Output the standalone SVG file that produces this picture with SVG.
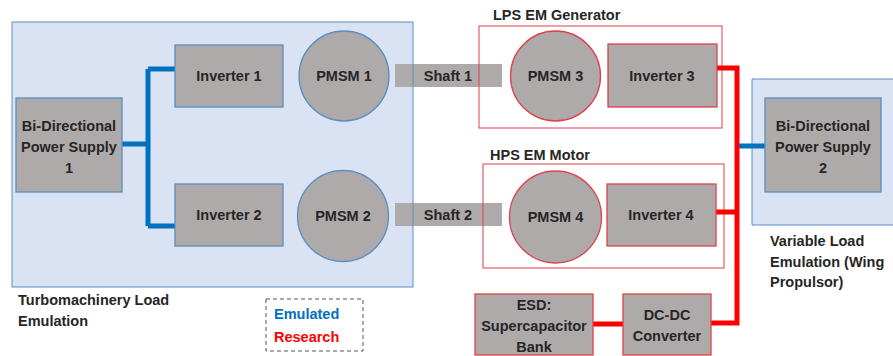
<svg xmlns="http://www.w3.org/2000/svg" width="893" height="356" viewBox="0 0 893 356">
<style>
text{font-family:"Liberation Sans",Arial,sans-serif;font-weight:bold;font-size:14.5px;fill:#262626}
.c{text-anchor:middle}
.rfill{fill:#dae3f3;stroke:none}
.rline{fill:none;stroke:#5b8fc0;stroke-width:1}
.gb{fill:#aeaaaa;stroke:#5b8fc0;stroke-width:1.3}
.gr{fill:#aeaaaa;stroke:#e0404a;stroke-width:1.3}
.frame{fill:none;stroke:#e0404a;stroke-width:1}
.shaft{fill:#aeaaaa;stroke:none}
.bl{fill:none;stroke:#0070c0;stroke-width:5}
.rl{fill:none;stroke:#ff0000;stroke-width:5}
</style>
<rect width="893" height="356" fill="#ffffff"/>
<g id="turbo-region">
<rect class="rfill" x="12" y="22" width="401" height="265"/>
<text x="18" y="305">Turbomachinery Load</text>
<text x="18" y="326">Emulation</text>
</g>
<g id="wing-region">
<rect class="rfill" x="752" y="79" width="141" height="146"/>
<text x="770" y="246">Variable Load</text>
<text x="770" y="267">Emulation (Wing</text>
<text x="770" y="287">Propulsor)</text>
</g>
<g id="shaft1">
<rect class="shaft" x="395" y="64" width="107" height="23"/>
</g>
<g id="shaft2">
<rect class="shaft" x="395" y="203" width="107" height="23"/>
</g>
<g id="borders">
<rect class="rline" x="12" y="22" width="401" height="265"/>
<path class="rline" d="M893 79 H752 V225 H893"/>
</g>
<g id="lps-frame">
<rect class="frame" x="479" y="26" width="243" height="102"/>
<text x="493" y="20">LPS EM Generator</text>
</g>
<g id="hps-frame">
<rect class="frame" x="483" y="164" width="241" height="104"/>
<text x="490" y="160">HPS EM Motor</text>
</g>
<g id="shaft-labels">
<text class="c" x="448" y="81">Shaft 1</text>
<text class="c" x="448" y="220">Shaft 2</text>
</g>
<g id="connectors">
<path class="bl" d="M122 144 H148 M148 69 V226 M148 69 H175 M148 226 H175"/>
<path class="bl" d="M737 146 H765"/>
<path class="rl" d="M717 68 H737 V323 H711 M716 212 H737 M593 324 H623"/>
</g>
<g id="ps1">
<rect class="gb" x="16" y="98" width="106" height="94"/>
<text class="c" x="69" y="131">Bi-Directional</text>
<text class="c" x="69" y="152">Power Supply</text>
<text class="c" x="69" y="173">1</text>
</g>
<g id="inverter1">
<rect class="gb" x="175" y="45" width="108" height="62"/>
<text class="c" x="229" y="81">Inverter 1</text>
</g>
<g id="inverter2">
<rect class="gb" x="175" y="184" width="108" height="62"/>
<text class="c" x="229" y="220">Inverter 2</text>
</g>
<g id="pmsm1">
<circle class="gb" cx="344" cy="76" r="45"/>
<text class="c" x="344" y="81">PMSM 1</text>
</g>
<g id="pmsm2">
<circle class="gb" cx="343" cy="216" r="45.5"/>
<text class="c" x="343" y="221">PMSM 2</text>
</g>
<g id="pmsm3">
<circle class="gr" cx="555.5" cy="76" r="45"/>
<text class="c" x="555.5" y="81">PMSM 3</text>
</g>
<g id="inverter3">
<rect class="gr" x="608" y="44" width="109" height="63"/>
<text class="c" x="662" y="81">Inverter 3</text>
</g>
<g id="pmsm4">
<circle class="gr" cx="555.5" cy="217" r="46"/>
<text class="c" x="555.5" y="222">PMSM 4</text>
</g>
<g id="inverter4">
<rect class="gr" x="607" y="184" width="109" height="62"/>
<text class="c" x="661" y="220">Inverter 4</text>
</g>
<g id="ps2">
<rect class="gb" x="765" y="98" width="116" height="94"/>
<text class="c" x="823" y="131">Bi-Directional</text>
<text class="c" x="823" y="152">Power Supply</text>
<text class="c" x="823" y="173">2</text>
</g>
<g id="esd">
<rect class="gr" x="475" y="294" width="118" height="61"/>
<text class="c" x="534" y="310">ESD:</text>
<text class="c" x="534" y="331">Supercapacitor</text>
<text class="c" x="534" y="352">Bank</text>
</g>
<g id="dcdc">
<rect class="gr" x="623" y="294" width="88" height="61"/>
<text class="c" x="667" y="320">DC-DC</text>
<text class="c" x="667" y="341">Converter</text>
</g>
<g id="legend">
<rect x="266" y="299" width="97" height="52" fill="none" stroke="#555" stroke-width="1" stroke-dasharray="4,3"/>
<text x="274" y="319" style="fill:#0070c0">Emulated</text>
<text x="274" y="342" style="fill:#ff0000">Research</text>
</g>
</svg>
